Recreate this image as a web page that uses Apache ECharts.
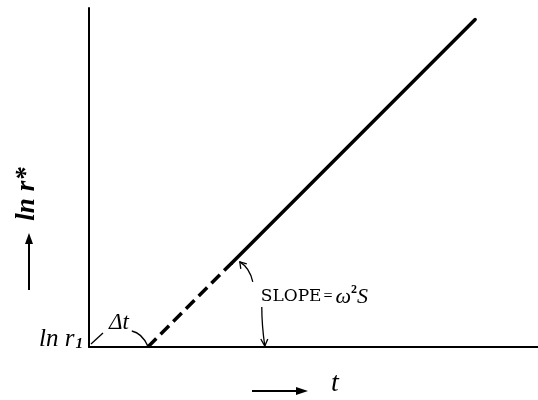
<!DOCTYPE html>
<html>
<head>
<meta charset="utf-8">
<script src="https://cdn.jsdelivr.net/npm/echarts@6/dist/echarts.min.js"></script>
<style>html,body{margin:0;padding:0;background:#fff;}#c{width:538px;height:400px;}</style>
</head>
<body>
<div id="c"></div>
<script>
// Schematic: ln r* vs t, lag Δt, then straight line with slope ω²s
const dashedT = [13.1, 31.8];
const dashedLnR = [0, 24.8];
const solidT = [31.8, 86.0];
const solidLnR = [24.8, 96.6];
const axisRange = [0, 100];

const chart = echarts.init(document.getElementById('c'), null, {renderer: 'canvas'});
const pairs = (xs, ys) => xs.map((x, i) => [x, ys[i]]);

const axisCommon = {
  type: 'value', min: axisRange[0], max: axisRange[1],
  axisLine: {show: true, onZero: false, lineStyle: {color: '#000', width: 2}},
  axisTick: {show: false}, axisLabel: {show: false}, splitLine: {show: false}
};

chart.setOption({
  backgroundColor: '#fff',
  animation: false,
  grid: {left: 89, top: 8, right: 0, bottom: 53},
  xAxis: Object.assign({}, axisCommon),
  yAxis: Object.assign({}, axisCommon),
  series: [
    {type: 'line', data: pairs(dashedT, dashedLnR), symbol: 'none',
     lineStyle: {color: '#000', width: 3.5, type: [12, 6]}},
    {type: 'line', data: pairs(solidT, solidLnR), symbol: 'none',
     lineStyle: {color: '#000', width: 3.5, cap: 'round'}}
  ]
});

const P = (x, y) => chart.convertToPixel({gridIndex: 0}, [x, y]);
const origin = P(0, 0);
const t0 = P(dashedT[0], 0);
const brk = P(solidT[0], solidLnR[0]);

const blk = {stroke: '#000', lineWidth: 1.3, fill: null};
const SERIF = '"Liberation Serif", "DejaVu Serif", serif';
const SLAB = '"DejaVu Serif", "Liberation Serif", serif';

const g = [];
// Δt annotation
g.push({type: 'line', shape: {x1: origin[0] + 2, y1: origin[1] - 3, x2: origin[0] + 14, y2: origin[1] - 14}, style: blk});
g.push({type: 'bezierCurve', shape: {x1: t0[0] - 16, y1: origin[1] - 16, cpx1: t0[0] - 6, cpy1: origin[1] - 14, x2: t0[0], y2: origin[1] - 1}, style: blk});
g.push({type: 'text', x: origin[0] + 30, y: origin[1] - 24, style: {text: 'Δt', fontFamily: SERIF, fontStyle: 'italic', fontSize: 23, fill: '#000', align: 'center', verticalAlign: 'middle'}});

// slope annotation arrows
const a1 = [brk[0] + 8, brk[1] - 1];
g.push({type: 'bezierCurve', shape: {x1: a1[0] + 13, y1: a1[1] + 20, cpx1: a1[0] + 10, cpy1: a1[1] + 6, x2: a1[0], y2: a1[1]}, style: blk});
g.push({type: 'polyline', shape: {points: [[a1[0] + 1, a1[1] + 7], [a1[0], a1[1]], [a1[0] + 7, a1[1] + 2]]}, style: blk});
const a2x = brk[0] + 33;
g.push({type: 'bezierCurve', shape: {x1: a2x - 3, y1: origin[1] - 40, cpx1: a2x - 3, cpy1: origin[1] - 22, x2: a2x, y2: origin[1] - 1}, style: blk});
g.push({type: 'polyline', shape: {points: [[a2x - 4, origin[1] - 8], [a2x, origin[1] - 1], [a2x + 3, origin[1] - 8]]}, style: blk});
g.push({type: 'text', x: brk[0] + 29, y: origin[1] - 50, style: {
  text: '{m|SLOPE}{e|=}{w|ω}{s|2}{w|S}', verticalAlign: 'middle', fill: '#000',
  rich: {
    m: {fontFamily: SLAB, fontSize: 17, fill: '#000', verticalAlign: 'bottom', height: 26, lineHeight: 26},
    e: {fontFamily: SERIF, fontSize: 16, fill: '#000', verticalAlign: 'bottom', padding: [0, 3, 0, 2], height: 26, lineHeight: 26},
    w: {fontFamily: SERIF, fontStyle: 'italic', fontSize: 22, fill: '#000', verticalAlign: 'bottom', height: 26, lineHeight: 26},
    s: {fontFamily: SERIF, fontWeight: 'bold', fontSize: 12, fill: '#000', verticalAlign: 'top', height: 12, lineHeight: 12}
  }
}});

// y label: ln r1 at origin
g.push({type: 'text', x: origin[0] - 6, y: origin[1] - 8, style: {
  text: '{a|ln r}{b|1}', align: 'right', verticalAlign: 'middle', fill: '#000',
  rich: {
    a: {fontFamily: SERIF, fontStyle: 'italic', fontSize: 25, fill: '#000', verticalAlign: 'bottom'},
    b: {fontFamily: SERIF, fontStyle: 'italic', fontWeight: 'bold', fontSize: 15, fill: '#000', verticalAlign: 'bottom', padding: [0, 0, 0, 1]}
  }
}});

// y axis title with arrow
g.push({type: 'text', x: 27, y: 194, rotation: Math.PI / 2, style: {
  text: 'ln r*', fontFamily: SERIF, fontStyle: 'italic', fontWeight: 'bold', fontSize: 27, fill: '#000', align: 'center', verticalAlign: 'middle'}});
g.push({type: 'line', shape: {x1: 29, y1: 290, x2: 29, y2: 240}, style: {stroke: '#000', lineWidth: 2}});
g.push({type: 'polygon', shape: {points: [[29, 233], [25, 244], [33, 244]]}, style: {fill: '#000'}});

// x axis title with arrow
g.push({type: 'line', shape: {x1: 252, y1: 391, x2: 300, y2: 391}, style: {stroke: '#000', lineWidth: 2}});
g.push({type: 'polygon', shape: {points: [[308, 391], [296, 387], [296, 395]]}, style: {fill: '#000'}});
g.push({type: 'text', x: 335, y: 384, style: {text: 't', fontFamily: SERIF, fontStyle: 'italic', fontSize: 28, fill: '#000', align: 'center', verticalAlign: 'middle'}});

chart.setOption({graphic: g});
</script>
</body>
</html>
